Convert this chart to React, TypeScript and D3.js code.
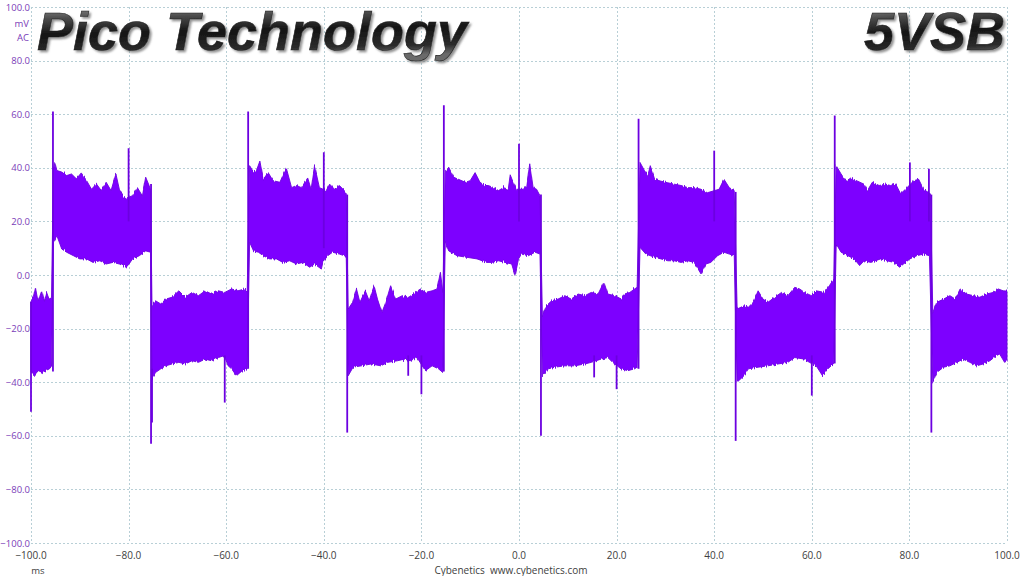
import { useEffect, useRef } from "react";
import * as d3 from "d3";

// time axis (ms) and voltage axis (mV) ticks
const xTicks = [-100, -80, -60, -40, -20, 0, 20, 40, 60, 80, 100];
const yTicks = [100, 80, 60, 40, 20, 0, -20, -40, -60, -80, -100];

// top edge of the ripple band, [ms, mV]
const upperEnvelope: [number, number][] = [
  [-100, -10], [-99.5, -8], [-99.1, -4.6], [-98.6, -9.5], [-98.2, -8], [-97.8, -5.9], [-97.3, -9.8], [-96.8, -6.5], [-96.3, -9], [-95.8, -8.5],
  [-95.4, 39], [-95.1, 42], [-94.7, 39], [-93.7, 38.4], [-92.7, 37.1], [-91.7, 37.7], [-90.7, 35.9], [-89.7, 38.1], [-88.6, 35.2], [-87.6, 32], [-86.6, 34], [-85.6, 31.5], [-84.6, 34.6], [-83.6, 31.5], [-82.6, 37.7], [-81.9, 32], [-80.9, 28.4], [-79.2, 29.6], [-78.2, 32.6], [-77.2, 29.6], [-76.5, 36.5], [-75.8, 33.4], [-75.5, 31.5],
  [-75.2, -11.5], [-74.5, -9.6], [-73.4, -10.8], [-72.4, -9], [-71.1, -8.3], [-69.7, -5.9], [-68.4, -8.3], [-67, -6.5], [-65.7, -7.7], [-64.3, -5.9], [-63, -7.1], [-61.6, -5.9], [-60.3, -6.5], [-58.9, -5.2], [-57.6, -5.9], [-56.2, -5.2], [-55.7, -6],
  [-55.2, 40.8], [-54.4, 38.4], [-53.8, 39], [-53.1, 42.5], [-52.4, 35.7], [-51.4, 38.2], [-50.4, 35.2], [-49, 34.6], [-47.7, 40], [-46.6, 32.6], [-45.6, 33.4], [-44.6, 32.6], [-43.3, 36.2], [-42.6, 32], [-41.9, 40.8], [-40.9, 32.6], [-39.5, 31.5], [-38.8, 33.9], [-37.8, 32], [-36.8, 33.4], [-35.8, 31.5], [-35.4, 30.3],
  [-35, -12.7], [-34.1, -10.2], [-33.3, -5.2], [-32.6, -10.2], [-31.5, -5.9], [-30.7, -9.6], [-29.7, -4], [-29, -9], [-28.1, -14], [-27.3, -10.2], [-26.3, -4], [-25.3, -9], [-23.9, -7.7], [-22.6, -8.3], [-21.2, -6.5], [-20.2, -5.2], [-19.2, -6.5], [-17.8, -5.9], [-16.8, -5.2], [-16.1, 1], [-15.6, -6.5],
  [-15.1, 38.4], [-14.4, 40.2], [-13.4, 36.5], [-12.4, 35.7], [-11, 34.6], [-10, 35.2], [-9, 38.2], [-8, 34.6], [-7, 33.4], [-6.3, 33.4], [-5.2, 32.6], [-4.2, 31.5], [-3.2, 32.6], [-2.2, 32], [-1.8, 37.4], [-1.2, 34.6], [-0.5, 32], [0.9, 32], [1.6, 33.4], [2.2, 41.5], [2.9, 32.6], [3.6, 32], [4.3, 29.6],
  [4.8, -15.2], [5.6, -11.5], [6.7, -9.6], [8, -9], [9.4, -7.7], [10.7, -9], [12.1, -7.1], [13.5, -7.7], [14.8, -6.5], [16.2, -7.1], [17.4, -2.7], [18.2, -7.1], [19.6, -7.7], [21, -9], [21.6, -7.1], [22.7, -6.5], [23.7, -5.2], [24.2, -4.6],
  [24.8, 42], [25.7, 39], [26.4, 37.1], [26.9, 40.8], [27.8, 35.7], [29.1, 35], [30.5, 34.4], [31.8, 33.9], [33.2, 33.4], [34.6, 32.6], [35.9, 32.6], [37.3, 32], [38.6, 30.7], [41, 32], [42, 35.7], [43.1, 32.6], [44.1, 31.5],
  [44.7, -12.7], [46.1, -11.5], [47, -12], [48, -10.2], [49, -5.9], [50, -9], [51, -10.2], [52.4, -8.3], [53.8, -6.5], [55.1, -7.7], [56.5, -4.6], [57.5, -5.2], [58.5, -6.5], [59.9, -7.7], [60.9, -5.9], [62.6, -6.5], [63.6, -4], [64.5, -1.5],
  [65, 40.8], [66, 37.7], [67, 35], [68, 36.2], [69.4, 35], [70.7, 33.9], [71.4, 31.5], [72.4, 34.6], [73.8, 33.4], [75.1, 33.9], [76.1, 33.4], [77.2, 33.9], [78.2, 30.3], [79.2, 32], [80.9, 35.2], [81.9, 35.7], [82.9, 32], [84.3, 30.3],
  [84.8, -14], [85.6, -10.2], [87, -9], [88.3, -7.7], [89.4, -9], [90.4, -5.2], [91.7, -7.1], [93.1, -7.7], [94.4, -8.3], [95.8, -7.1], [97.2, -6.5], [98.2, -5.2], [99.2, -5.9], [100, -6],
];

// bottom edge of the ripple band, [ms, mV]
const lowerEnvelope: [number, number][] = [
  [-100, -36], [-99.4, -37.6], [-98.5, -35.7], [-97.6, -36.4], [-96.8, -35.5], [-96.2, -35], [-95.8, -34],
  [-95.4, 12.2], [-94.7, 14.7], [-93.7, 9.7], [-92.7, 8.5], [-91.3, 7.2], [-90, 6], [-88.6, 6], [-87.3, 4.7], [-85.9, 5.3], [-84.6, 4.1], [-83.2, 4.7], [-81.9, 4.1], [-80.5, 2.9], [-79.9, 4.1], [-79.2, 6], [-77.8, 7.2], [-76.5, 9], [-75.5, 8.5],
  [-75.2, -38.9], [-74.5, -36.4], [-73.4, -35], [-72.4, -33.9], [-71.1, -33.2], [-69.7, -32.6], [-68.4, -33.2], [-67, -32], [-65.7, -32.6], [-64.3, -31.4], [-63, -32], [-61.6, -30.8], [-60.4, -30.1], [-59.6, -33.9], [-58.9, -35], [-57.9, -37.6], [-56.9, -36], [-55.7, -35],
  [-55.2, 12.2], [-54.4, 9], [-53.4, 8.5], [-52.4, 7.2], [-51.1, 6], [-49.7, 6], [-48.4, 4.7], [-47, 5.3], [-45.6, 4.1], [-44.3, 4.7], [-42.9, 2.9], [-41.9, 4.1], [-40.5, 2.2], [-40.2, 4.7], [-39.2, 7.2], [-38.2, 8.5], [-36.8, 7.8], [-35.8, 7.2], [-35.4, 7],
  [-35, -37.6], [-34, -34.4], [-32.3, -33.9], [-30.3, -33.2], [-28.3, -33.9], [-26.9, -32.6], [-24.9, -32], [-23.5, -31.4], [-22.3, -32], [-20.9, -30.8], [-19.2, -35.7], [-17.8, -33.9], [-16.5, -35], [-15.6, -36.4],
  [-15.1, 12.2], [-14.4, 9], [-12.7, 7.2], [-10.7, 6.6], [-8.6, 6], [-6.6, 4.7], [-5.6, 4.7], [-4.2, 5.3], [-2.9, 4.7], [-1.5, 4.1], [-0.8, -0.2], [-0.1, 6], [0.5, 7.8], [1.9, 7.2], [3.3, 8.5], [4.3, 7.8],
  [4.8, -37.6], [6, -35], [7.4, -34.4], [9.4, -33.9], [11.4, -33.9], [13.5, -33.2], [14.8, -32.6], [16.8, -31.4], [18.2, -30.8], [19.2, -32.6], [20.9, -35], [22.3, -35.7], [23.7, -35], [24.2, -34.4],
  [24.8, 10.3], [26, 7.8], [27.8, 6.6], [29.1, 6], [30.5, 5.3], [31.8, 5.3], [33.2, 4.7], [34.6, 5.3], [35.9, 4.7], [37.3, 0.4], [38.3, 4.1], [39.3, 4.7], [40.7, 7.2], [42, 8.5], [43.1, 7.8], [44.1, 7.2],
  [44.7, -40], [46.1, -37.6], [47, -35], [49, -34.4], [51, -33.9], [53.1, -33.2], [55.1, -32.6], [56.5, -30.8], [58.5, -31.4], [59.5, -32.6], [60.9, -33.9], [62.2, -37.6], [63.3, -35], [64.5, -33],
  [65, 11.6], [66, 8.5], [67.4, 7.2], [68.7, 6], [69.8, 3.5], [70.7, 5.3], [72.1, 4.7], [74.1, 6], [75.4, 5.3], [76.8, 4.7], [78, 2.9], [78.8, 4.1], [80.1, 6], [81.5, 7.2], [82.9, 7.8], [84.1, 7.2],
  [84.8, -40], [85.6, -36.4], [87, -34.4], [88.3, -33.9], [89.7, -32.6], [91, -31.4], [92.4, -32.6], [93.8, -33.9], [95.1, -33.2], [96.5, -32], [97.8, -30.1], [98.5, -29.5], [99.5, -32.6], [100, -32],
];

// edges and single spikes, [ms, min mV, max mV]
const spikes: [number, number, number][] = [
  [-100, -51, -10], [-95.5, -36, 61], [-75.4, -63, 34], [-75.2, -55, -35], [-55.5, -35, 61], [-35.2, -58.8, 30],
  [-15.4, -36, 63.3], [4.5, -60, 30], [24.5, -35, 58.3], [44.4, -61.9, 31], [64.7, -33, 59.5], [84.5, -58.8, 30],
  [-80, 20, 47.3], [-60.3, -47.6, -30], [-40, 10, 45.8], [-22.7, -37.6, -30], [-20, -44.5, -30], [0, 20, 49],
  [15.4, -38.2, -30], [20, -42.6, -30], [40, 20, 46.4], [60, -45, -30], [80.1, 20, 42], [84, 20, 39.6],
];

const W = 1024;
const H = 576;
const WAVE = "#7d00ff";
const FONT = "'Open Sans', 'Noto Sans', sans-serif";

export default function App() {
  const svgRef = useRef<SVGSVGElement | null>(null);

  useEffect(() => {
    const svg = d3.select(svgRef.current);
    svg.selectAll("*").remove();

    const x = d3.scaleLinear().domain([-100, 100]).range([31, 1007]);
    const y = d3.scaleLinear().domain([-100, 100]).range([543, 7]);

    svg.append("rect").attr("width", W).attr("height", H).attr("fill", "#fff");

    const defs = svg.append("defs");
    const grad = defs
      .append("linearGradient")
      .attr("id", "metal")
      .attr("x1", 0).attr("y1", 0).attr("x2", 0.15).attr("y2", 1);
    [
      ["0%", "#a8a8a8"],
      ["30%", "#4a4a4a"],
      ["55%", "#141414"],
      ["85%", "#2c2c2c"],
      ["100%", "#6a6a6a"],
    ].forEach(([o, c]) => grad.append("stop").attr("offset", o).attr("stop-color", c));
    const shadow = defs.append("filter").attr("id", "shadow");
    shadow
      .append("feDropShadow")
      .attr("dx", 2).attr("dy", 2).attr("stdDeviation", 1.2)
      .attr("flood-color", "#777").attr("flood-opacity", 0.8);

    // hairy edge texture for the sampled band (rendering only)
    const hair = defs.append("filter").attr("id", "hair")
      .attr("x", "-2%").attr("y", "-5%").attr("width", "104%").attr("height", "110%");
    hair.append("feTurbulence").attr("type", "fractalNoise")
      .attr("baseFrequency", "0.9 0").attr("numOctaves", 1).attr("seed", 3).attr("result", "n");
    hair.append("feColorMatrix").attr("in", "n").attr("type", "matrix")
      .attr("values", "0 0 0 0 0.5  0 1 0 0 0  0 0 0 0 0  0 0 0 0 1").attr("result", "m");
    hair.append("feDisplacementMap").attr("in", "SourceGraphic").attr("in2", "m")
      .attr("scale", 7).attr("xChannelSelector", "R").attr("yChannelSelector", "G");

    // grid
    const grid = svg.append("g").attr("stroke", "#b8cfd6").attr("stroke-dasharray", "2,2").attr("stroke-width", 1);
    grid.selectAll("line.v").data(xTicks).join("line")
      .attr("x1", (d) => Math.round(x(d)) + 0.5).attr("x2", (d) => Math.round(x(d)) + 0.5)
      .attr("y1", y(100)).attr("y2", y(-100));
    grid.selectAll("line.h").data(yTicks).join("line")
      .attr("class", "h")
      .attr("x1", x(-100)).attr("x2", x(100))
      .attr("y1", (d) => Math.round(y(d)) + 0.5).attr("y2", (d) => Math.round(y(d)) + 0.5);

    // y labels
    svg.append("g").selectAll("text").data(yTicks).join("text")
      .attr("x", 30).attr("y", (d) => y(d) + 3.5)
      .attr("text-anchor", "end")
      .attr("font-family", FONT).attr("font-size", 9.5)
      .attr("fill", "#7a3db8")
      .text((d) => d3.format(".1f")(d));
    ["mV", "AC"].forEach((t, i) =>
      svg.append("text")
        .attr("x", 29).attr("y", 26.5 + i * 14.5)
        .attr("text-anchor", "end")
        .attr("font-family", FONT).attr("font-size", 9.5)
        .attr("fill", "#7a3db8").text(t)
    );

    // x labels
    svg.append("g").selectAll("text").data(xTicks).join("text")
      .attr("x", (d) => x(d)).attr("y", 558.5)
      .attr("text-anchor", "middle")
      .attr("font-family", FONT).attr("font-size", 10)
      .attr("fill", "#404040")
      .text((d) => d3.format(".1f")(d));
    svg.append("text").attr("x", 38).attr("y", 573.5).attr("text-anchor", "middle")
      .attr("font-family", FONT).attr("font-size", 9.5).attr("fill", "#404040").text("ms");
    svg.append("text").attr("x", 511).attr("y", 573.5).attr("text-anchor", "middle")
      .attr("font-family", FONT).attr("font-size", 10).attr("fill", "#404040")
      .attr("xml:space", "preserve")
      .text("Cybenetics  www.cybenetics.com");

    // ripple band
    const line = d3.line<[number, number]>().x((d) => x(d[0])).y((d) => y(d[1]));
    const band = line(upperEnvelope) + "L" + line([...lowerEnvelope].reverse())!.slice(1) + "Z";
    svg.append("path").attr("d", band)
      .attr("fill", WAVE).attr("stroke", "#6c00e0").attr("stroke-width", 0.9).attr("stroke-linejoin", "bevel")
      .attr("filter", "url(#hair)");

    svg.append("g").selectAll("line").data(spikes).join("line")
      .attr("x1", (d) => x(d[0])).attr("x2", (d) => x(d[0]))
      .attr("y1", (d) => y(d[1])).attr("y2", (d) => y(d[2]))
      .attr("stroke", "#6c00e0").attr("stroke-width", 1.8);

    // titles
    const title = (txt: string, xp: number, anchor: string) =>
      svg.append("text")
        .attr("x", xp).attr("y", 50)
        .attr("text-anchor", anchor)
        .attr("font-family", "'Liberation Sans', Arial, sans-serif")
        .attr("font-weight", "bold").attr("font-style", "italic")
        .attr("font-size", 54)
        .attr("fill", "url(#metal)")
        .attr("stroke", "#1a1a1a").attr("stroke-width", 0.6)
        .attr("filter", "url(#shadow)")
        .text(txt);
    title("Pico Technology", 37, "start");
    title("5VSB", 1005, "end");
  }, []);

  return (
    <svg
      ref={svgRef}
      width={W}
      height={H}
      style={{ position: "absolute", left: 0, top: 0, display: "block" }}
    />
  );
}
